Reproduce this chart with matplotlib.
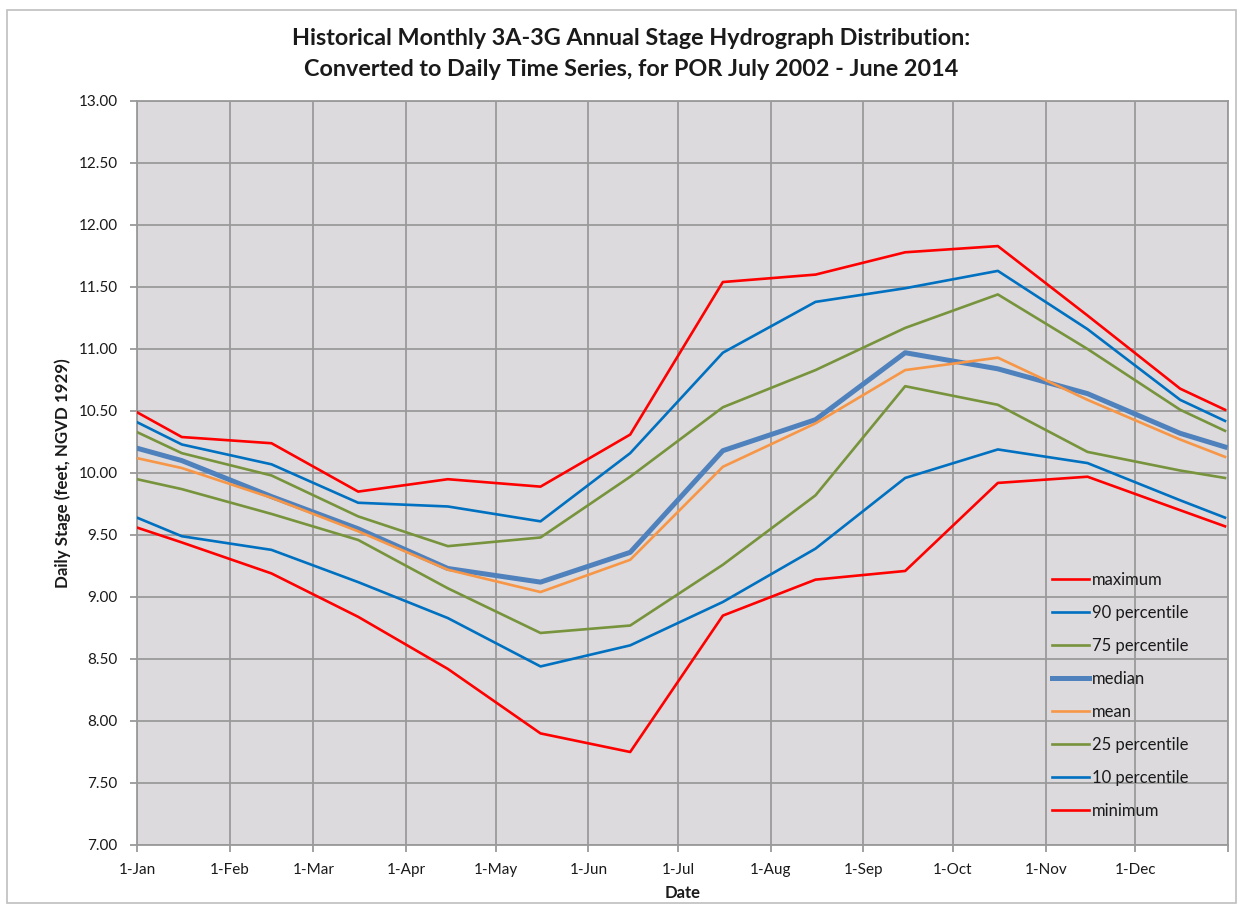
import matplotlib
matplotlib.use("Agg")
import matplotlib.pyplot as plt
from matplotlib.patches import Rectangle
import pandas as pd

# ---------------- data ----------------
dates = ["2014-01-01", "2014-01-16", "2014-02-15", "2014-03-16", "2014-04-15",
         "2014-05-16", "2014-06-15", "2014-07-16", "2014-08-16", "2014-09-15",
         "2014-10-16", "2014-11-15", "2014-12-16", "2014-12-31"]

maximum      = [10.49, 10.29, 10.24, 9.85, 9.95, 9.89, 10.31, 11.54, 11.60, 11.78, 11.83, 11.27, 10.68, 10.51]
pct90        = [10.41, 10.23, 10.07, 9.76, 9.73, 9.61, 10.16, 10.97, 11.38, 11.49, 11.63, 11.16, 10.59, 10.42]
pct75        = [10.33, 10.16, 9.98, 9.65, 9.41, 9.48, 9.97, 10.53, 10.83, 11.17, 11.44, 11.00, 10.51, 10.34]
median       = [10.20, 10.10, 9.81, 9.55, 9.23, 9.12, 9.36, 10.18, 10.43, 10.97, 10.84, 10.64, 10.32, 10.21]
mean         = [10.12, 10.04, 9.80, 9.53, 9.22, 9.04, 9.30, 10.05, 10.40, 10.83, 10.93, 10.59, 10.27, 10.13]
pct25        = [9.95, 9.87, 9.67, 9.46, 9.07, 8.71, 8.77, 9.26, 9.82, 10.70, 10.55, 10.17, 10.02, 9.96]
pct10        = [9.64, 9.49, 9.38, 9.12, 8.83, 8.44, 8.61, 8.96, 9.39, 9.96, 10.19, 10.08, 9.78, 9.64]
minimum      = [9.56, 9.44, 9.19, 8.84, 8.42, 7.90, 7.75, 8.85, 9.14, 9.21, 9.92, 9.97, 9.70, 9.57]

series_names = ["maximum", "90 percentile", "75 percentile", "median", "mean",
                "25 percentile", "10 percentile", "minimum"]

month_ticks = ["2014-01-01", "2014-02-01", "2014-03-01", "2014-04-01", "2014-05-01",
               "2014-06-01", "2014-07-01", "2014-08-01", "2014-09-01", "2014-10-01",
               "2014-11-01", "2014-12-01"]
month_labels = ["1-Jan", "1-Feb", "1-Mar", "1-Apr", "1-May", "1-Jun", "1-Jul",
                "1-Aug", "1-Sep", "1-Oct", "1-Nov", "1-Dec"]
y_ticks = [7.0, 7.5, 8.0, 8.5, 9.0, 9.5, 10.0, 10.5, 11.0, 11.5, 12.0, 12.5, 13.0]

title = ("Historical Monthly 3A-3G Annual Stage Hydrograph Distribution:\n"
         "Converted to Daily Time Series, for POR July 2002 - June 2014")

# ---------------- styling ----------------
plt.rcParams['font.family'] = ['Lato', 'DejaVu Sans']

RED = "#FF0000"
BLUE = "#0070C0"
GREEN = "#77933C"
MED = "#4F81BD"
ORANGE = "#F79646"
GRID = "#9A9A9A"
BG = "#DCDADD"
TXT = "#1a1a1a"

W, H = 1239, 907
fig = plt.figure(figsize=(W / 100, H / 100), dpi=100)
fig.patch.set_facecolor("white")
# outer chart border
fig.add_artist(Rectangle((7 / W, 4 / H), (1236 - 7) / W, (897 - 4) / H,
                         transform=fig.transFigure, fill=False,
                         edgecolor="#BFBFBF", linewidth=1.2))

left, right, top, bottom = 137, 1228, 101, 845
ax = fig.add_axes([left / W, 1 - bottom / H, (right - left) / W, (bottom - top) / H])
ax.set_facecolor(BG)

x = pd.to_datetime(dates)
data = [maximum, pct90, pct75, median, mean, pct25, pct10, minimum]
colors = [RED, BLUE, GREEN, MED, ORANGE, GREEN, BLUE, RED]
widths = [1.9, 1.9, 1.9, 3.6, 1.9, 1.9, 1.9, 1.9]
handles = []
for vals, c, lw, name in zip(data, colors, widths, series_names):
    ln, = ax.plot(x, vals, color=c, lw=lw, label=name, solid_joinstyle="round", zorder=3)
    handles.append(ln)

ax.set_xlim(pd.Timestamp("2014-01-01"), pd.Timestamp("2015-01-01"))
ax.set_ylim(7, 13)
ax.set_yticks(y_ticks)
ax.set_yticklabels([f"{v:.2f}" for v in y_ticks])
xt = list(pd.to_datetime(month_ticks)) + [pd.Timestamp("2015-01-01")]
ax.set_xticks(xt)
ax.set_xticklabels(month_labels + [""])

ax.grid(True, color=GRID, linewidth=1.3, zorder=1)
ax.set_axisbelow(True)
for s in ax.spines.values():
    s.set_color(GRID)
    s.set_linewidth(1.3)
ax.tick_params(axis="both", direction="out", length=5, width=1.3, color=GRID,
               labelsize=11, labelcolor=TXT)
ax.tick_params(axis="y", pad=9)
ax.tick_params(axis="x", pad=8)

ax.set_xlabel("Date", fontsize=12, fontweight="bold", labelpad=6, color=TXT)
ax.set_ylabel("Daily Stage (feet, NGVD 1929)", fontsize=12.2, fontweight="bold",
              labelpad=5, color=TXT)

fig.text(631 / W, 1 - 54 / H, title, ha="center", va="center", fontsize=16.8,
         fontweight="bold", linespacing=1.55, color=TXT)

leg = ax.legend(handles=handles, loc="upper left",
                bbox_to_anchor=(1052 / W, 1 - 572 / H), bbox_transform=fig.transFigure,
                frameon=False, fontsize=12, handlelength=2.2, handletextpad=0.2,
                labelspacing=1.02, borderpad=0, borderaxespad=0)
for t in leg.get_texts():
    t.set_color(TXT)

fig.savefig("out.png", dpi=100, facecolor="white")
